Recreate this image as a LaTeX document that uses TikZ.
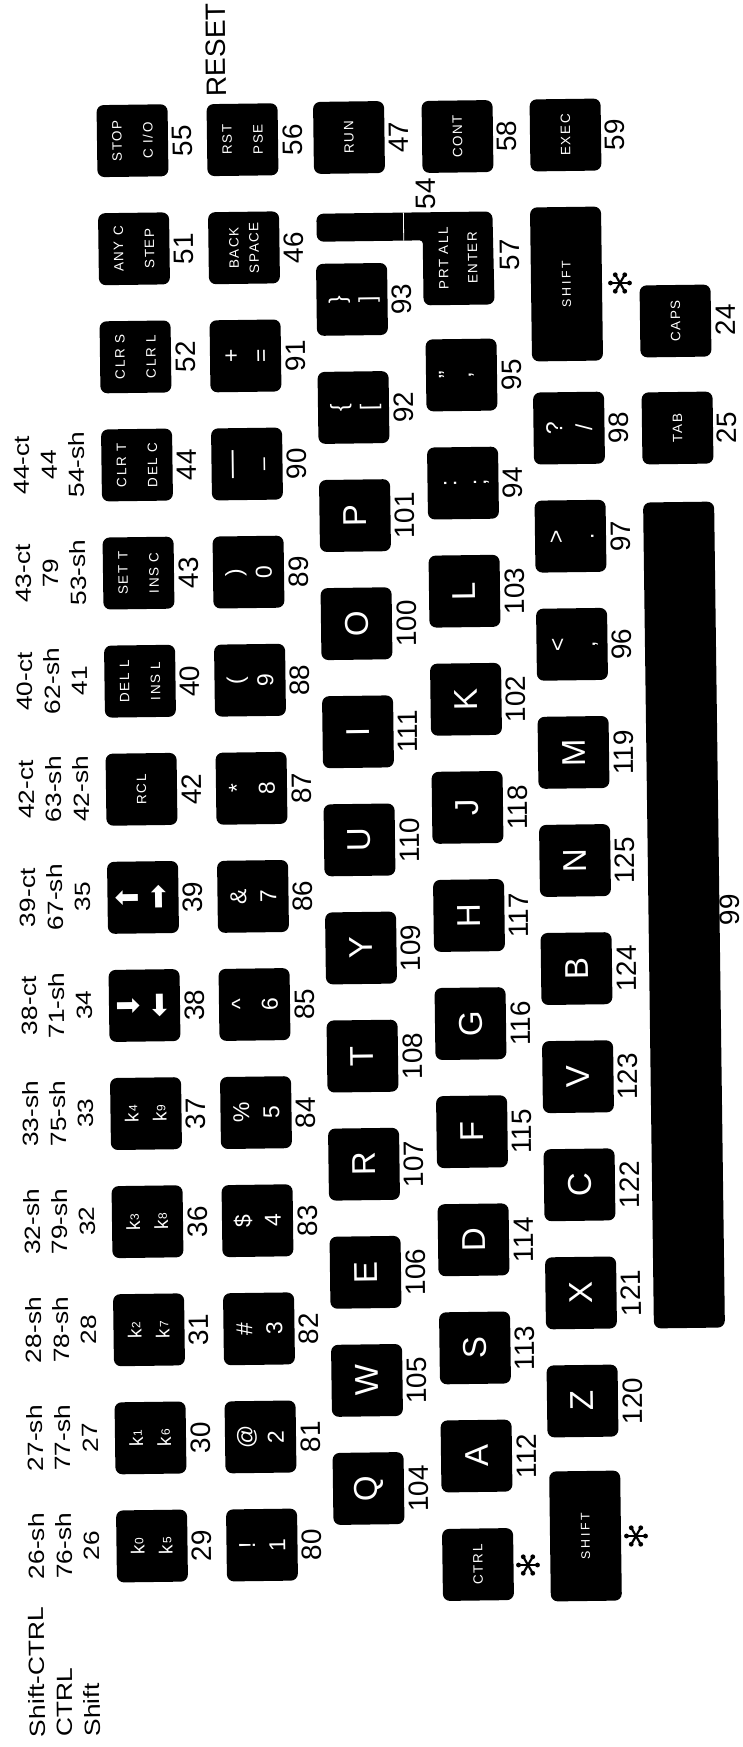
\documentclass[tikz,border=0pt]{standalone}
\usepackage{fontspec}
\setmainfont{Liberation Sans}
\newfontfamily\labfont[FakeStretch=1.2]{Liberation Sans}
\newfontfamily\keyfont[LetterSpace=12]{Liberation Sans}
\newfontfamily\widefont[LetterSpace=22]{Liberation Sans}
\newfontfamily\arrowfont{DejaVu Sans}
\newcommand\sS{\rule[-6.8pt]{0pt}{30pt}}
\newcommand\sA{\rule[-5pt]{0pt}{30pt}}
\newcommand\sF{\rule[-10.8pt]{0pt}{31pt}}
\newcommand\sB{\rule[-5.3pt]{0pt}{20pt}}
\newcommand\sK{\rule[-7.5pt]{0pt}{28pt}}
\newcommand\sL{\rule[-5.85pt]{0pt}{27.5pt}}
\newcommand\sub[1]{\kern0.8pt\raisebox{1.2pt}{\fontsize{12}{14}\selectfont#1}}
% generic key: style, name, x0, y0, index, content, number
\newcommand\kk[7]{%
  \node[#1] (#2) at ({#3-1.5*#5},{-(#4-108.1*#5)}) {#6};
  \node[num] (n#2) at ({#3-1.5*#5+50},{-(#4-108.1*#5)}) {#7};}
\newcommand\ra[4]{\kk{#1}{k#4}{152}{1546}{#2}{#3}{#4}}
\newcommand\rb[4]{\kk{#1}{k#4}{262}{1545}{#2}{#3}{#4}}
\newcommand\rc[4]{\kk{#1}{k#4}{368.5}{1488.5}{#2}{#3}{#4}}
\newcommand\rd[4]{\kk{#1}{k#4}{476.5}{1456}{#2}{#3}{#4}}
\newcommand\re[4]{\kk{#1}{k#4}{582.5}{1401}{#2}{#3}{#4}}
\newcommand\lab[3]{\node[lab] (#3) at ({64-1.5*#1},{-(1546-108.1*#1)}) {#2};}
\begin{document}
\begin{tikzpicture}[x=1pt,y=1pt,
  rot/.style={rotate=90.75},
  kbase/.style={rot,fill=black,text=white,rounded corners=7pt,inner sep=0pt,
     minimum width=72pt,minimum height=71pt,align=center},
  lkey/.style={kbase,font=\fontsize{33}{33}\selectfont},
  skey/.style={kbase,font=\fontsize{23}{30}\selectfont},
  akey/.style={kbase,font=\arrowfont\fontsize{30}{30}\selectfont},
  fkey/.style={kbase,font=\keyfont\fontsize{13.5}{31}\selectfont},
  bkey/.style={kbase,font=\keyfont\fontsize{13.5}{20}\selectfont},
  wkey/.style={kbase,font=\widefont\fontsize{12.5}{31}\selectfont},
  kkey/.style={kbase,font=\fontsize{19}{28}\selectfont},
  num/.style={rot,inner sep=0pt,font=\fontsize{28}{28}\selectfont},
  lab/.style={rot,inner sep=0pt,align=center,font=\labfont\fontsize{22}{27.5}\selectfont},
  astpic/.pic={\foreach \a in {0,60,120}{
      \draw[line width=2.2pt] (\a:9pt) -- (\a+180:9pt);
      \fill (\a:9.5pt) circle (2.4pt) (\a+180:9.5pt) circle (2.4pt);}}
]
\useasboundingbox (0,0) rectangle (743,-1747);

% ---- row labels ----
\node[lab,align=left,anchor=west] (rowlab) at (65,-1737) {\sL Shift-CTRL\\\sL CTRL\\\sL Shift};
\lab{0}{\sL 26-sh\\\sL 76-sh\\\sL 26}{l0}
\lab{1}{\sL 27-sh\\\sL 77-sh\\\sL 27}{l1}
\lab{2}{\sL 28-sh\\\sL 78-sh\\\sL 28}{l2}
\lab{3}{\sL 32-sh\\\sL 79-sh\\\sL 32}{l3}
\lab{4}{\sL 33-sh\\\sL 75-sh\\\sL 33}{l4}
\lab{5}{\sL 38-ct\\\sL 71-sh\\\sL 34}{l5}
\lab{6}{\sL 39-ct\\\sL 67-sh\\\sL 35}{l6}
\lab{7}{\sL 42-ct\\\sL 63-sh\\\sL 42-sh}{l7}
\lab{8}{\sL 40-ct\\\sL 62-sh\\\sL 41}{l8}
\lab{9}{\sL 43-ct\\\sL 79\\\sL 53-sh}{l9}
\lab{10}{\sL 44-ct\\\sL 44\\\sL 54-sh}{l10}
\node[rot,inner sep=0pt,font=\fontsize{28}{28}\selectfont] (reset) at (216,-50) {RESET};

% ---- row 1 ----
\ra{kkey}{0}{\sK k\sub0\\\sK k\sub5}{29}
\ra{kkey}{1}{\sK k\sub1\\\sK k\sub6}{30}
\ra{kkey}{2}{\sK k\sub2\\\sK k\sub7}{31}
\ra{kkey}{3}{\sK k\sub3\\\sK k\sub8}{36}
\ra{kkey}{4}{\sK k\sub4\\\sK k\sub9}{37}
\ra{akey}{5}{\sA ⬇\\\sA ⬅}{38}
\ra{akey}{6}{\sA ⬆\\\sA ➡}{39}
\ra{fkey}{7}{RCL}{42}
\ra{fkey}{8}{\sF DEL L\\\sF INS L}{40}
\ra{fkey}{9}{\sF SET T\\\sF INS C}{43}
\ra{fkey}{10}{\sF CLR T\\\sF DEL C}{44}
\ra{fkey}{11}{\sF CLR S\\\sF CLR L}{52}
\ra{fkey}{12}{\sF ANY C\\\sF STEP}{51}
\ra{fkey}{13}{\sF STOP\\\sF C I/O}{55}

% ---- row 2 ----
\rb{skey}{0}{\sS !\\\sS 1}{80}
\rb{skey}{1}{\sS @\\\sS 2}{81}
\rb{skey}{2}{\sS \#\\\sS 3}{82}
\rb{skey}{3}{\sS \$\\\sS 4}{83}
\rb{skey}{4}{\sS \%\\\sS 5}{84}
\rb{skey}{5}{\sS \textasciicircum\\\sS 6}{85}
\rb{skey}{6}{\sS \&\\\sS 7}{86}
\rb{skey}{7}{\sS *\\\sS 8}{87}
\rb{skey}{8}{\sS (\\\sS 9}{88}
\rb{skey}{9}{\sS )\\\sS 0}{89}
\rb{skey}{10}{\sS {\fontsize{28}{30}\selectfont —}\\\sS –}{90}
\rb{skey}{11}{\sS +\\\sS =}{91}
\rb{bkey}{12}{\sB BACK\\\sB SPACE}{46}
\rb{fkey}{13}{\sF RST\\\sF PSE}{56}

% ---- row 3 ----
\rc{lkey}{0}{Q}{104}
\rc{lkey}{1}{W}{105}
\rc{lkey}{2}{E}{106}
\rc{lkey}{3}{R}{107}
\rc{lkey}{4}{T}{108}
\rc{lkey}{5}{Y}{109}
\rc{lkey}{6}{U}{110}
\rc{lkey}{7}{I}{111}
\rc{lkey}{8}{O}{100}
\rc{lkey}{9}{P}{101}
\rc{skey}{10}{\sS \{\\\sS [}{92}
\rc{skey}{11}{\sS \}\\\sS ]}{93}
\node[fkey] (k47) at (349,-137.5) {RUN};
\node[num] (n47) at (399,-137.5) {47};

% 54 bar and PRT ALL / ENTER key
\fill[rotate around={0.75:(450,-260)}] (404,-212) -- (404,-240) [rounded corners=7pt] -- (317,-240) -- (317,-212) [sharp corners] -- cycle;
\fill[rotate around={0.75:(450,-260)}] (404,-240) -- (404,-212) [rounded corners=7pt] -- (493,-212) -- (494,-305) -- (423,-305) [rounded corners=3pt] -- (423,-240) [sharp corners] -- cycle;
\draw[white,line width=0.8pt,rotate around={0.75:(450,-260)}] (404,-212) -- (404,-240);
\node[rot,text=white,inner sep=0pt,align=center,font=\keyfont\fontsize{13.5}{29}\selectfont] (k57) at (458,-258) {\rule[-9.8pt]{0pt}{29pt}PRT ALL\\\rule[-9.8pt]{0pt}{29pt}ENTER};
\node[num] (n54) at (426,-194) {54};
\node[num] (n57) at (509.5,-255) {57};

% ---- row 4 ----
\node[fkey] (kctrl) at (478,-1564.5) {CTRL};
\pic at (528,-1565) {astpic};
\rd{lkey}{0}{A}{112}
\rd{lkey}{1}{S}{113}
\rd{lkey}{2}{D}{114}
\rd{lkey}{3}{F}{115}
\rd{lkey}{4}{G}{116}
\rd{lkey}{5}{H}{117}
\rd{lkey}{6}{J}{118}
\rd{lkey}{7}{K}{102}
\rd{lkey}{8}{L}{103}
\rd{skey}{9}{\sS :\\\sS ;}{94}
\rd{skey}{10}{\sS ”\\\sS ’}{95}
\node[fkey] (k58) at (457.5,-136.5) {CONT};
\node[num] (n58) at (507,-136.5) {58};

% ---- row 5 ----
\node[wkey,minimum width=130pt] (kshl) at (585.5,-1536) {SHIFT};
\pic at (636,-1536) {astpic};
\re{lkey}{0}{Z}{120}
\re{lkey}{1}{X}{121}
\re{lkey}{2}{C}{122}
\re{lkey}{3}{V}{123}
\re{lkey}{4}{B}{124}
\re{lkey}{5}{N}{125}
\re{lkey}{6}{M}{119}
\re{skey}{7}{\sS <\\\sS ,}{96}
\re{skey}{8}{\sS >\\\sS .}{97}
\re{skey}{9}{\sS ?\\\sS /}{98}
\node[wkey,minimum width=154pt] (kshr) at (566.5,-284) {SHIFT};
\pic at (620,-283) {astpic};
\node[fkey] (k59) at (565.5,-135) {EXEC};
\node[num] (n59) at (615,-135) {59};

% ---- row 6 ----
\node[kbase,minimum width=826pt] (k99) at (684,-915) {};
\node[num] (n99) at (730,-910) {99};
\node[fkey] (k25) at (677.5,-428) {TAB};
\node[num] (n25) at (727,-428) {25};
\node[fkey] (k24) at (675.5,-321) {CAPS};
\node[num] (n24) at (725.5,-320) {24};
\end{tikzpicture}
\end{document}
